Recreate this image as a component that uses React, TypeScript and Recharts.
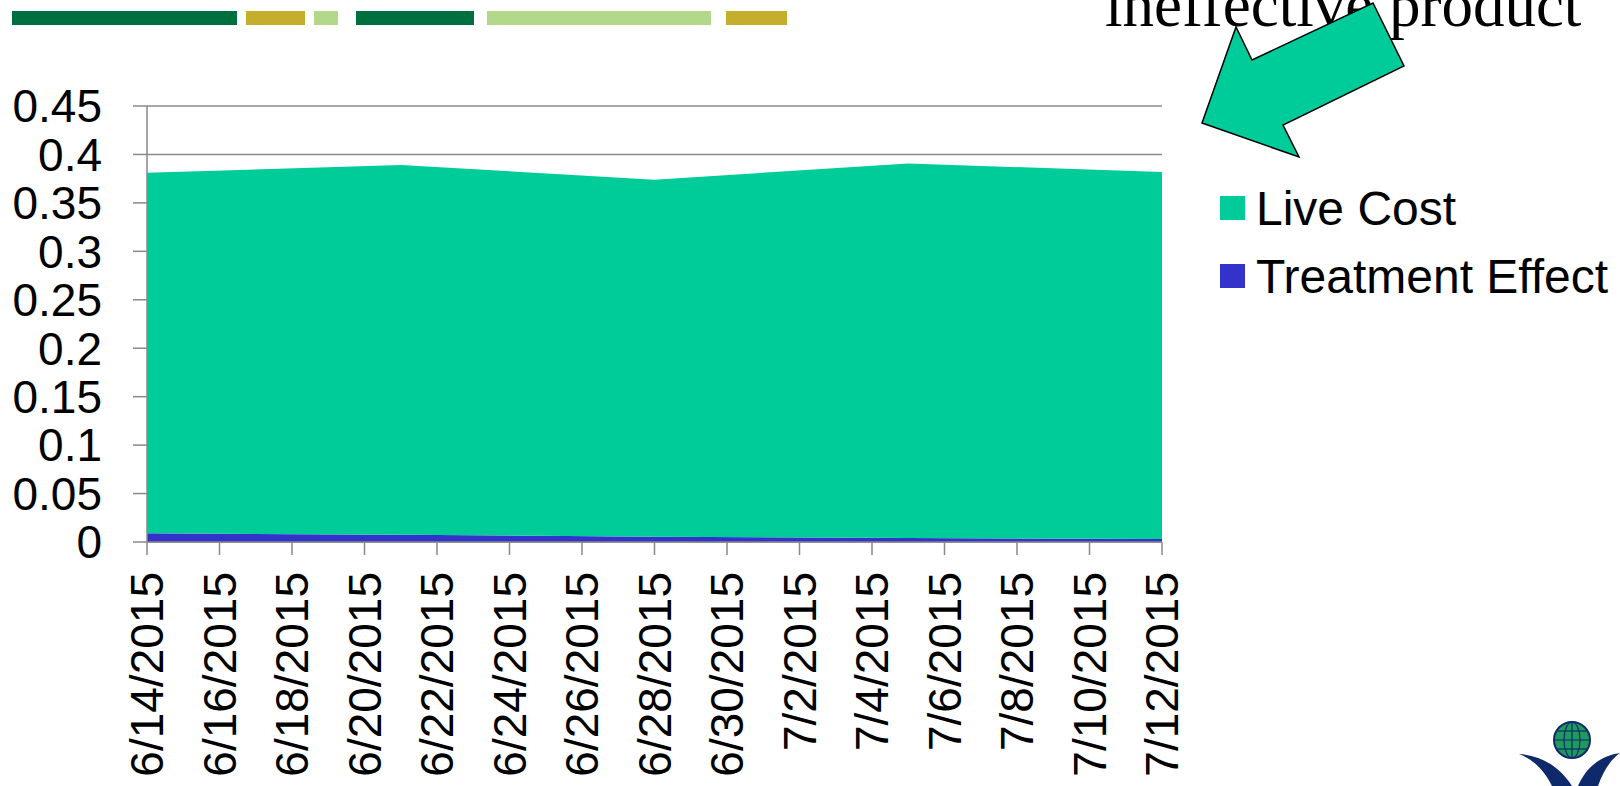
import React from "react"
import { AreaChart, Area, XAxis, YAxis, CartesianGrid, Legend } from "recharts"

// weekly readings (the chart only bends at these dates)
const dates = ["6/14/2015", "6/21/2015", "6/28/2015", "7/5/2015", "7/12/2015"]
const liveCost = [0.372, 0.3815, 0.3685, 0.3866, 0.379]
const treatmentEffect = [0.009, 0.0075, 0.0055, 0.004, 0.003]

const tickLabels = [
  "6/14/2015", "6/16/2015", "6/18/2015", "6/20/2015", "6/22/2015",
  "6/24/2015", "6/26/2015", "6/28/2015", "6/30/2015", "7/2/2015",
  "7/4/2015", "7/6/2015", "7/8/2015", "7/10/2015", "7/12/2015",
]
const yTicks = [0, 0.05, 0.1, 0.15, 0.2, 0.25, 0.3, 0.35, 0.4, 0.45]
const legendOrder = ["Live Cost", "Treatment Effect"]

const LIVE_COLOR = "#00CC99"
const TREAT_COLOR = "#3333CC"
const GRID_COLOR = "#898989"
const FONT = "'Liberation Sans', Arial, sans-serif"

const dayOf = (s: string) =>
  Math.round((Date.parse(s) - Date.parse(dates[0])) / 86400000)

const data = dates.map((d, i) => ({
  day: dayOf(d),
  liveCost: liveCost[i],
  treatmentEffect: treatmentEffect[i],
}))

const xTicks = tickLabels.map(dayOf)
const labelFor = (day: number) => tickLabels[xTicks.indexOf(day)] ?? ""

function DateTick(props: any) {
  const { x, y, payload } = props
  return (
    <text
      x={x}
      y={y}
      transform={`rotate(-90, ${x}, ${y})`}
      textAnchor="end"
      dy="0.355em"
      fontSize={46}
      fontFamily={FONT}
      fill="#000"
    >
      {labelFor(payload.value)}
    </text>
  )
}

function renderLegend(props: any) {
  const items = [...(props.payload || [])].sort(
    (a: any, b: any) => legendOrder.indexOf(a.value) - legendOrder.indexOf(b.value)
  )
  return (
    <div style={{ fontFamily: FONT, fontSize: 48, color: "#000" }}>
      {items.map((item: any) => (
        <div key={item.value} style={{ height: 68, display: "flex", alignItems: "center", whiteSpace: "nowrap" }}>
          <span style={{ width: 25, height: 24, background: item.color, marginRight: 11, display: "inline-block" }} />
          <span>{item.value}</span>
        </div>
      ))}
    </div>
  )
}

const barSegments = [
  { x1: 12, x2: 237, color: "#006F3F" },
  { x1: 246, x2: 305, color: "#C4AE2C" },
  { x1: 314, x2: 338, color: "#B3D88A" },
  { x1: 356, x2: 474, color: "#006F3F" },
  { x1: 487, x2: 711, color: "#B3D88A" },
  { x1: 726, x2: 787, color: "#C4AE2C" },
]

export default function App() {
  return (
    <div style={{ position: "absolute", left: 0, top: 0, width: 1620, height: 786, overflow: "hidden", background: "#fff" }}>
      <div style={{ position: "absolute", left: 0, top: 0 }}>
        <AreaChart width={1620} height={786} data={data} margin={{ top: 106, right: 458, bottom: 0, left: 0 }}>
          <CartesianGrid vertical={false} stroke={GRID_COLOR} strokeWidth={1.5} />
          <XAxis
            dataKey="day"
            type="number"
            domain={[0, 28]}
            ticks={xTicks}
            interval={0}
            height={244}
            tickSize={13}
            tickMargin={17}
            axisLine={{ stroke: GRID_COLOR, strokeWidth: 1.5 }}
            tickLine={{ stroke: GRID_COLOR, strokeWidth: 1.5 }}
            tick={<DateTick />}
          />
          <YAxis
            type="number"
            domain={[0, 0.45]}
            ticks={yTicks}
            interval={0}
            width={147}
            tickSize={14}
            tickMargin={31}
            axisLine={{ stroke: GRID_COLOR, strokeWidth: 1.5 }}
            tickLine={{ stroke: GRID_COLOR, strokeWidth: 1.5 }}
            tick={{ fontSize: 46, fontFamily: FONT, fill: "#000" }}
          />
          <Area
            type="linear"
            dataKey="treatmentEffect"
            name="Treatment Effect"
            stackId="a"
            fill={TREAT_COLOR}
            fillOpacity={1}
            stroke="none"
            isAnimationActive={false}
          />
          <Area
            type="linear"
            dataKey="liveCost"
            name="Live Cost"
            stackId="a"
            fill={LIVE_COLOR}
            fillOpacity={1}
            stroke="none"
            isAnimationActive={false}
          />
          <Legend
            layout="vertical"
            align="center"
            verticalAlign="middle"
            wrapperStyle={{ left: 1220, top: 174, width: 400 }}
            content={renderLegend}
          />
        </AreaChart>
      </div>

      {/* slide decorations */}
      <svg width={1620} height={786} style={{ position: "absolute", left: 0, top: 0, pointerEvents: "none" }}>
        {barSegments.map((b) => (
          <rect key={b.x1} x={b.x1} y={11} width={b.x2 - b.x1} height={14} fill={b.color} />
        ))}
        <text x={1105} y={26} fontSize={63} fontFamily="'Liberation Serif', 'Times New Roman', serif" fill="#000">
          ineffective product
        </text>
        <polygon
          points="1202,123 1236,27 1252,60 1373,3 1404,66 1283,125 1299,157"
          fill={LIVE_COLOR}
          stroke="#000"
          strokeWidth={1.5}
          strokeLinejoin="miter"
        />
        <g>
          <path d="M1519,754 C1545,756 1562,770 1572,786 L1552,786 C1545,772 1535,760 1519,754 Z" fill="#0F2A6B" />
          <path d="M1620,753 C1598,756 1585,770 1578,786 L1598,786 C1603,772 1610,760 1620,753 Z" fill="#0F2A6B" />
          <circle cx={1572} cy={740} r={18} fill="#1F9A5E" stroke="#0F2A6B" strokeWidth={2} />
          <ellipse cx={1572} cy={740} rx={8} ry={18} fill="none" stroke="#0F2A6B" strokeWidth={1.2} />
          <line x1={1554} y1={740} x2={1590} y2={740} stroke="#0F2A6B" strokeWidth={1.2} />
          <line x1={1557} y1={731} x2={1587} y2={731} stroke="#0F2A6B" strokeWidth={1.2} />
          <line x1={1557} y1={749} x2={1587} y2={749} stroke="#0F2A6B" strokeWidth={1.2} />
          <line x1={1572} y1={722} x2={1572} y2={758} stroke="#0F2A6B" strokeWidth={1.2} />
        </g>
      </svg>
    </div>
  )
}
